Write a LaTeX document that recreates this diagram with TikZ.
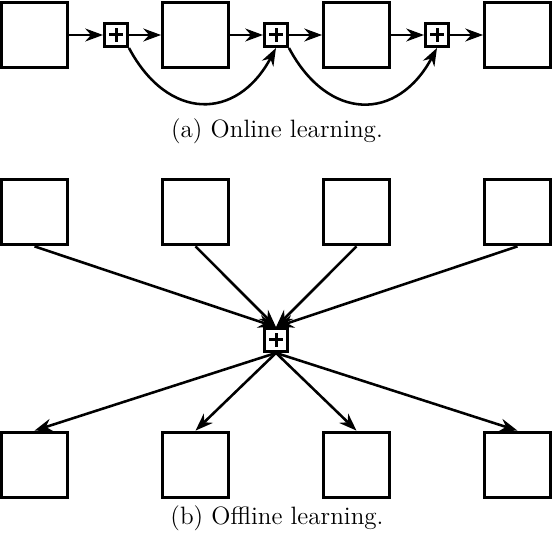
\documentclass[tikz,border=0pt]{standalone}
\usepackage{amsmath}
\usetikzlibrary{arrows.meta}

\tikzset{
  blockbox/.style={draw, line width=1.35pt, minimum size=29.6pt, inner sep=0pt},
  sumbox/.style={draw, line width=1.45pt, minimum size=10.2pt, inner sep=0pt,
    path picture={
      \draw[line width=1.35pt] ([xshift=-3pt]path picture bounding box.center) -- ++(6pt,0);
      \draw[line width=1.35pt] ([yshift=-3pt]path picture bounding box.center) -- ++(0,6pt);
    }},
  flow/.style={line width=1.15pt, -{Stealth[length=8pt,width=5.8pt,inset=2.6pt]}}
}

\begin{document}
\begin{tikzpicture}[x=0.45pt, y=-0.45pt, font=\fontsize{11.3}{13.5}\selectfont]
\useasboundingbox (0,0) rectangle (554,540);

% online
\node[blockbox] (a1) at (34.5, 35) {};
\node[blockbox] (a2) at (195.5, 35) {};
\node[blockbox] (a3) at (356.5, 35) {};
\node[blockbox] (a4) at (517.5, 35) {};
\node[sumbox] (s1) at (116, 35) {};
\node[sumbox] (s2) at (276, 35) {};
\node[sumbox] (s3) at (437, 35) {};

\draw[flow] (a1) -- (s1);
\draw[flow] (s1) -- (a2);
\draw[flow] (a2) -- (s2);
\draw[flow] (s2) -- (a3);
\draw[flow] (a3) -- (s3);
\draw[flow] (s3) -- (a4);
\draw[flow] (s1.south east) to[out=-62, in=-118, looseness=1.45] (s2.south);
\draw[flow] (s2.south east) to[out=-62, in=-118, looseness=1.45] (s3.south);

\node (capa) at (277, 131) {(a) Online learning.};

% offline
\node[sumbox] (s) at (276, 340) {};
\foreach \i/\x in {1/34.5, 2/195.5, 3/356.5, 4/517.5} {
  \node[blockbox] (b\i) at (\x, 212) {};
  \node[blockbox] (c\i) at (\x, 465) {};
  \draw[flow] (b\i.south) -- (s.north);
  \draw[flow] (s.south) -- (c\i.north);
}

\node (capb) at (277, 518) {(b) Offline learning.};

\end{tikzpicture}
\end{document}
